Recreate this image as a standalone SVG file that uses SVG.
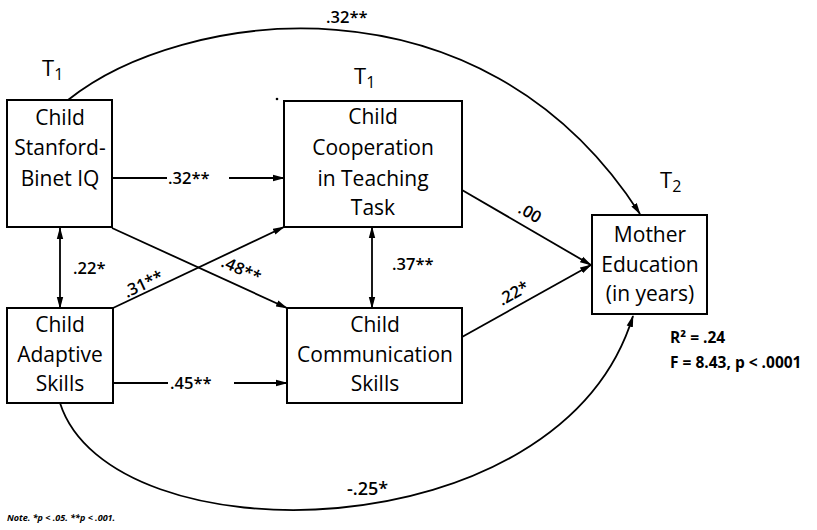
<svg xmlns="http://www.w3.org/2000/svg" width="817" height="530" viewBox="0 0 817 530">
<defs>
<marker id="ah" markerUnits="userSpaceOnUse" markerWidth="12" markerHeight="8" refX="11" refY="4" orient="auto-start-reverse" viewBox="0 0 12 8">
<path d="M0,0.8 L12,4 L0,7.2 z" fill="#000"/>
</marker>
<style>
.box{fill:#fff;stroke:#000;stroke-width:2}
.nt{font-family:"Open Sans","Liberation Sans",sans-serif;font-size:21px;fill:#000;text-anchor:middle}
.el{font-family:"Open Sans","Liberation Sans",sans-serif;font-size:16.5px;font-weight:600;fill:#000}
.tl{font-family:"Open Sans","Liberation Sans",sans-serif;font-size:22px;fill:#000}
.sub{font-size:16px}
.cn{fill:none;stroke:#000;stroke-width:1.8}
.st{font-family:"Open Sans","Liberation Sans",sans-serif;font-size:15.5px;font-weight:700;fill:#000}
</style>
</defs>
<rect width="817" height="530" fill="#fff"/>
<g id="connectors">
<path class="cn" d="M68,100 C180,10 480,-35 640,214" marker-end="url(#ah)"/>
<path class="cn" d="M60,403 C110,560 560,555 633,316" marker-end="url(#ah)"/>
<path class="cn" d="M112,178 H167 M229,178 H284" marker-end="url(#ah)"/>
<path class="cn" d="M113,383 H168 M234,383 H287" marker-end="url(#ah)"/>
<path class="cn" d="M112,228 L287,308" marker-end="url(#ah)"/>
<path class="cn" d="M113,308 L284,227" marker-end="url(#ah)"/>
<path class="cn" d="M60,228 V308" marker-start="url(#ah)" marker-end="url(#ah)"/>
<path class="cn" d="M372,227 V308" marker-start="url(#ah)" marker-end="url(#ah)"/>
<path class="cn" d="M462,190 L591,265" marker-end="url(#ah)"/>
<path class="cn" d="M462,337 L591,265" marker-end="url(#ah)"/>
</g>
<g id="edge-labels">
<text class="el" x="326" y="23">.32**</text>
<text class="el" x="168" y="184">.32**</text>
<text class="el" x="170" y="389">.45**</text>
<text class="el" x="73" y="274">.22*</text>
<text class="el" x="392" y="270">.37**</text>
<text class="el" transform="translate(127,298) rotate(-25)">.31**</text>
<text class="el" transform="translate(220,266) rotate(24.5)">.48**</text>
<text class="el" transform="translate(517,212) rotate(30)">.00</text>
<text class="el" transform="translate(502,306) rotate(-29)">.22*</text>
<text class="el" x="347" y="495" style="font-size:18px">-.25*</text>
</g>
<g id="n-iq">
<rect class="box" x="7" y="100" width="105" height="127"/>
<text class="nt" x="60" y="125">Child</text>
<text class="nt" x="60" y="155">Stanford-</text>
<text class="nt" x="60" y="186">Binet IQ</text>
<text class="tl" x="42" y="76">T<tspan class="sub" dy="4">1</tspan></text>
</g>
<g id="n-coop">
<rect class="box" x="284" y="101" width="178" height="126"/>
<text class="nt" x="373" y="124">Child</text>
<text class="nt" x="373" y="155">Cooperation</text>
<text class="nt" x="373" y="186">in Teaching</text>
<text class="nt" x="373" y="215">Task</text>
<text class="tl" x="354" y="84">T<tspan class="sub" dy="4">1</tspan></text>
<circle cx="277" cy="99" r="1.3" fill="#000"/>
</g>
<g id="n-adapt">
<rect class="box" x="7" y="308" width="106" height="95"/>
<text class="nt" x="60" y="332">Child</text>
<text class="nt" x="60" y="362">Adaptive</text>
<text class="nt" x="60" y="391">Skills</text>
</g>
<g id="n-comm">
<rect class="box" x="287" y="308" width="175" height="95"/>
<text class="nt" x="375" y="332">Child</text>
<text class="nt" x="375" y="362">Communication</text>
<text class="nt" x="375" y="391">Skills</text>
</g>
<g id="n-mother">
<rect class="box" x="592" y="215" width="115" height="99"/>
<text class="nt" x="650" y="242">Mother</text>
<text class="nt" x="650" y="272">Education</text>
<text class="nt" x="650" y="301">(in years)</text>
<text class="tl" x="660" y="188">T<tspan class="sub" dy="4">2</tspan></text>
</g>
<g id="stats">
<text class="st" x="670" y="343">R² = .24</text>
<text class="st" x="670" y="368">F = 8.43, p &lt; .0001</text>
<text class="st" x="7" y="521" style="font-size:9px;font-style:italic">Note. *p &lt; .05. **p &lt; .001.</text>
</g>
</svg>
